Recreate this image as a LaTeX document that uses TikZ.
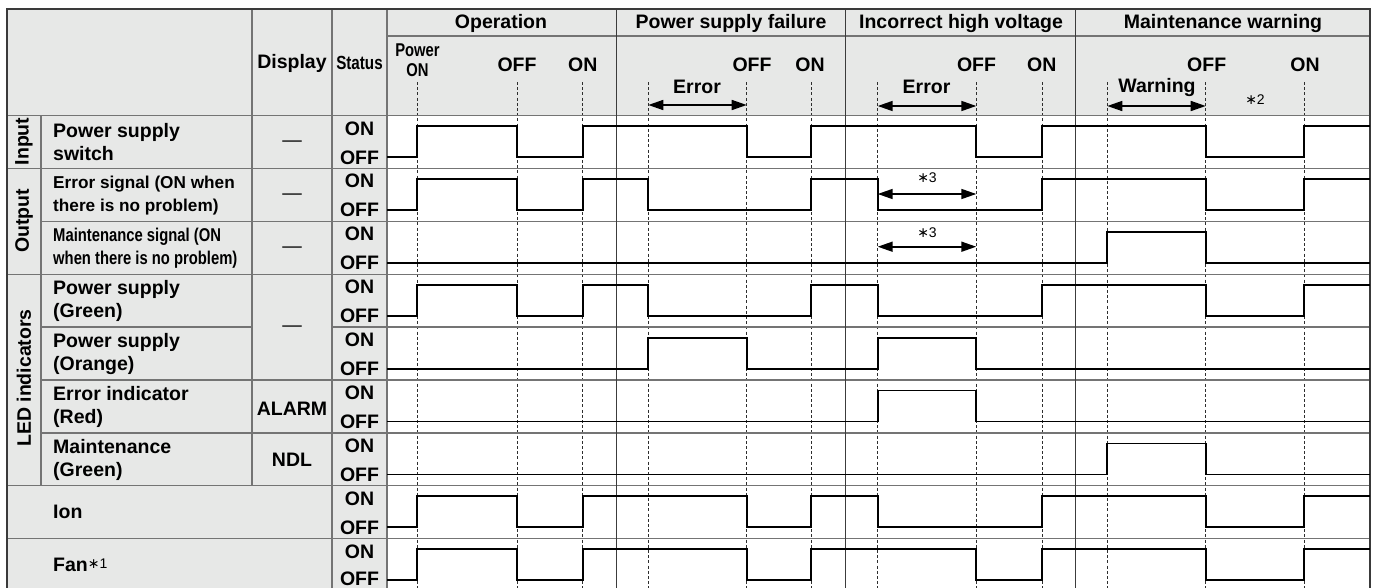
\documentclass[tikz,border=0pt]{standalone}
\usepackage{fontspec}
\setmainfont{Liberation Sans}
\newfontfamily\condf[FakeStretch=0.8]{Liberation Sans}
\newfontfamily\symf{DejaVu Sans}
\usetikzlibrary{arrows.meta}
\definecolor{cellgray}{HTML}{E7E8E7}
\definecolor{gridgray}{HTML}{747474}
\definecolor{secgray}{HTML}{3C3C3C}
\definecolor{dashgray}{HTML}{2E2E2E}
\definecolor{outergray}{HTML}{3A3A3A}
\def\evA{417.3}\def\evB{517}\def\evC{582.7}
\def\evD{648.3}\def\evE{746.7}\def\evF{811.3}
\def\evG{877.7}\def\evH{976.3}\def\evI{1042}
\def\evJ{1107.3}\def\evK{1205.7}\def\evL{1304}
\def\yh{10.5}\def\yl{41.5}
\newcommand\myast{{\symf ∗}}
\tikzset{
 grid/.style={draw=gridgray,line width=1.3pt},
 outer/.style={draw=outergray,line width=1.4pt},
 secline/.style={draw=secgray,line width=1pt},
 dashln/.style={draw=dashgray,line width=0.8pt,dash pattern=on 3pt off 2.2pt},
 wave/.style={draw=black,line width=1.8pt,line join=miter},
 dimarr/.style={draw=black,line width=1.6pt,{Triangle[length=15pt,width=10pt]}-{Triangle[length=15pt,width=10pt]}},
 txt/.style={inner sep=0pt,font=\fontsize{19.5}{23}\selectfont\bfseries},
 ctxt/.style={inner sep=0pt,font=\condf\fontsize{18.5}{20}\selectfont\bfseries},
 lbl/.style={txt,anchor=west,align=left},
 smalllbl/.style={inner sep=0pt,anchor=west,align=left,font=\fontsize{17.2}{23}\selectfont\bfseries},
 condlbl/.style={inner sep=0pt,anchor=west,align=left,font=\condf\fontsize{18.5}{23}\selectfont\bfseries},
 note/.style={inner sep=0pt,font=\fontsize{14}{16}\selectfont},
 dsh/.style={inner sep=0pt,font=\fontsize{19.5}{23}\selectfont},
}
\begin{document}
\begin{tikzpicture}[x=1pt,y=-1pt]
\useasboundingbox (0,0) rectangle (1376,587);
\clip (0,0) rectangle (1376,587);
% backgrounds
\fill[cellgray] (7,9) rectangle (387,592);
\fill[cellgray] (387,9) rectangle (1370,115.5);
% dashed event lines
\foreach \x in {\evA,\evB,\evC,\evD,\evE,\evF,\evG,\evH,\evI,\evJ,\evK,\evL}
  \draw[dashln] (\x,82) -- (\x,592);
% grid
\draw[grid] (387,36) -- (1370,36);
\draw[grid] (7,115.5) -- (1370,115.5);
\draw[grid] (7,168.4) -- (1370,168.4);
\draw[grid] (41,221.3) -- (1370,221.3);
\draw[grid] (7,274.2) -- (1370,274.2);
\draw[grid] (41,327.1) -- (252,327.1);
\draw[grid] (332,327.1) -- (1370,327.1);
\draw[grid] (41,380) -- (1370,380);
\draw[grid] (41,432.9) -- (1370,432.9);
\draw[grid] (7,485.8) -- (1370,485.8);
\draw[grid] (7,538.7) -- (1370,538.7);
\draw[grid] (41,115.5) -- (41,485.8);
\draw[grid] (252,9) -- (252,485.8);
\draw[grid] (332,9) -- (332,592);
\draw[grid] (387,9) -- (387,592);
\draw[secline] (616,9) -- (616,592);
\draw[secline] (845.7,9) -- (845.7,592);
\draw[secline] (1075.7,9) -- (1075.7,592);
\draw[outer] (7,9) rectangle (1370,592);
% waveforms
\begin{scope}[shift={(0,115.5)}]
\draw[wave] (387,\yl) -| (\evA,\yh) -| (\evB,\yl) -| (\evC,\yh) -| (\evE,\yl) -| (\evF,\yh) -| (\evH,\yl) -| (\evI,\yh) -| (\evK,\yl) -| (\evL,\yh) -- (1370,\yh);
\end{scope}
\begin{scope}[shift={(0,168.4)}]
\draw[wave] (387,\yl) -| (\evA,\yh) -| (\evB,\yl) -| (\evC,\yh) -| (\evD,\yl) -| (\evF,\yh) -| (\evG,\yl) -| (\evI,\yh) -| (\evK,\yl) -| (\evL,\yh) -- (1370,\yh);
\end{scope}
\begin{scope}[shift={(0,221.3)}]
\draw[wave] (387,\yl) -| (\evJ,\yh) -| (\evK,\yl) -- (1370,\yl);
\end{scope}
\begin{scope}[shift={(0,274.2)}]
\draw[wave] (387,\yl) -| (\evA,\yh) -| (\evB,\yl) -| (\evC,\yh) -| (\evD,\yl) -| (\evF,\yh) -| (\evG,\yl) -| (\evI,\yh) -| (\evK,\yl) -| (\evL,\yh) -- (1370,\yh);
\end{scope}
\begin{scope}[shift={(0,327.1)}]
\draw[wave] (387,\yl) -| (\evD,\yh) -| (\evE,\yl) -| (\evG,\yh) -| (\evH,\yl) -- (1370,\yl);
\end{scope}
\begin{scope}[shift={(0,380)}]
\draw[wave] (387,\yl) -| (\evG,\yh) -| (\evH,\yl) -- (1370,\yl);
\end{scope}
\begin{scope}[shift={(0,432.9)}]
\draw[wave] (387,\yl) -| (\evJ,\yh) -| (\evK,\yl) -- (1370,\yl);
\end{scope}
\begin{scope}[shift={(0,485.8)}]
\draw[wave] (387,\yl) -| (\evA,\yh) -| (\evB,\yl) -| (\evC,\yh) -| (\evE,\yl) -| (\evF,\yh) -| (\evG,\yl) -| (\evI,\yh) -| (\evK,\yl) -| (\evL,\yh) -- (1370,\yh);
\end{scope}
\begin{scope}[shift={(0,538.7)}]
\draw[wave] (387,\yl) -| (\evA,\yh) -| (\evB,\yl) -| (\evC,\yh) -| (\evE,\yl) -| (\evF,\yh) -| (\evH,\yl) -| (\evI,\yh) -| (\evK,\yl) -| (\evL,\yh) -- (1370,\yh);
\end{scope}
% dimension arrows
\coordinate (pfa) at (\evD,105); \coordinate (pfb) at (\evE,105);
\coordinate (hva) at (\evG,106); \coordinate (hvb) at (\evH,106);
\coordinate (mwa) at (\evJ,106); \coordinate (mwb) at (\evK,106);
\coordinate (esa) at (\evG,194); \coordinate (esb) at (\evH,194);
\coordinate (msa) at (\evG,246.7); \coordinate (msb) at (\evH,246.7);
\draw[dimarr] (pfa) -- (pfb);
\draw[dimarr] (hva) -- (hvb);
\draw[dimarr] (mwa) -- (mwb);
\draw[dimarr] (esa) -- (esb);
\draw[dimarr] (msa) -- (msb);
% header texts
\node[txt] (hdisp) at (292,63) {Display};
\node[ctxt,font=\condf\fontsize{19}{20}\selectfont\bfseries] (hstat) at (359.5,63) {Status};
\node[txt] (hop) at (501,23) {Operation};
\node[txt] (hpsf) at (731,23) {Power supply failure};
\node[txt] (hihv) at (961,23) {Incorrect high voltage};
\node[txt] (hmw) at (1223,23) {Maintenance warning};
\node[ctxt,align=center] (pon) at (417.5,60) {Power\\ON};
\node[txt] (opoff) at (\evB,65) {OFF};
\node[txt] (opon) at (\evC,65) {ON};
\node[txt] (pfoff) at (752,65) {OFF};
\node[txt] (pfon) at (810,65) {ON};
\node[txt] (hvoff) at (976.5,65) {OFF};
\node[txt] (hvon) at (1041.7,65) {ON};
\node[txt] (mwoff) at (1206.7,65) {OFF};
\node[txt] (mwon) at (1305,65) {ON};
\node[txt] (pferr) at (697,87) {Error};
\node[txt] (hverr) at (926.5,87) {Error};
\node[txt] (mwwarn) at (1157,87) {Warning};
\node[note] (n2) at (1255,100) {\myast2};
\node[note] (n3a) at (927,178) {\myast3};
\node[note] (n3b) at (927,233) {\myast3};
% category labels
\node[txt,rotate=90] (cin) at (24,141.5) {Input};
\node[txt,rotate=90] (cout) at (24,221) {Output};
\node[txt,rotate=90] (cled) at (24,378) {LED indicators};
% row labels
\node[lbl] (l1) at (53,142.5) {Power supply\\switch};
\node[smalllbl] (l2) at (53,195.4) {Error signal (ON when\\there is no problem)};
\node[condlbl] (l3) at (53,248.3) {Maintenance signal (ON\\when there is no problem)};
\node[lbl] (l4) at (53,301.2) {Power supply\\(Green)};
\node[lbl] (l5) at (53,354.1) {Power supply\\(Orange)};
\node[lbl] (l6) at (53,407) {Error indicator\\(Red)};
\node[lbl] (l7) at (53,459.9) {Maintenance\\(Green)};
\node[lbl] (l8) at (53,511.7) {Ion};
\node[lbl] (l9) at (53,565) {Fan\raisebox{3pt}{\fontsize{14}{14}\selectfont\mdseries\myast1}};
% display column
\node[dsh] (d1) at (292,143.3) {—};
\node[dsh] (d2) at (292,197) {—};
\node[dsh] (d3) at (292,250) {—};
\node[dsh] (d45) at (292,328.3) {—};
\node[txt] (dalarm) at (292,409) {ALARM};
\node[txt] (dndl) at (292,460) {NDL};
% status column
\foreach \t [count=\i] in {115.5,168.4,221.3,274.2,327.1,380,432.9,485.8} {
  \node[txt] (son\i) at (359.5,\t+12.8) {ON};
  \node[txt] (soff\i) at (359.5,\t+41.8) {OFF};
}
\node[txt] (son9) at (359.5,551.5) {ON};
\node[txt] (soff9) at (359.5,578.6) {OFF};
\end{tikzpicture}
\end{document}
